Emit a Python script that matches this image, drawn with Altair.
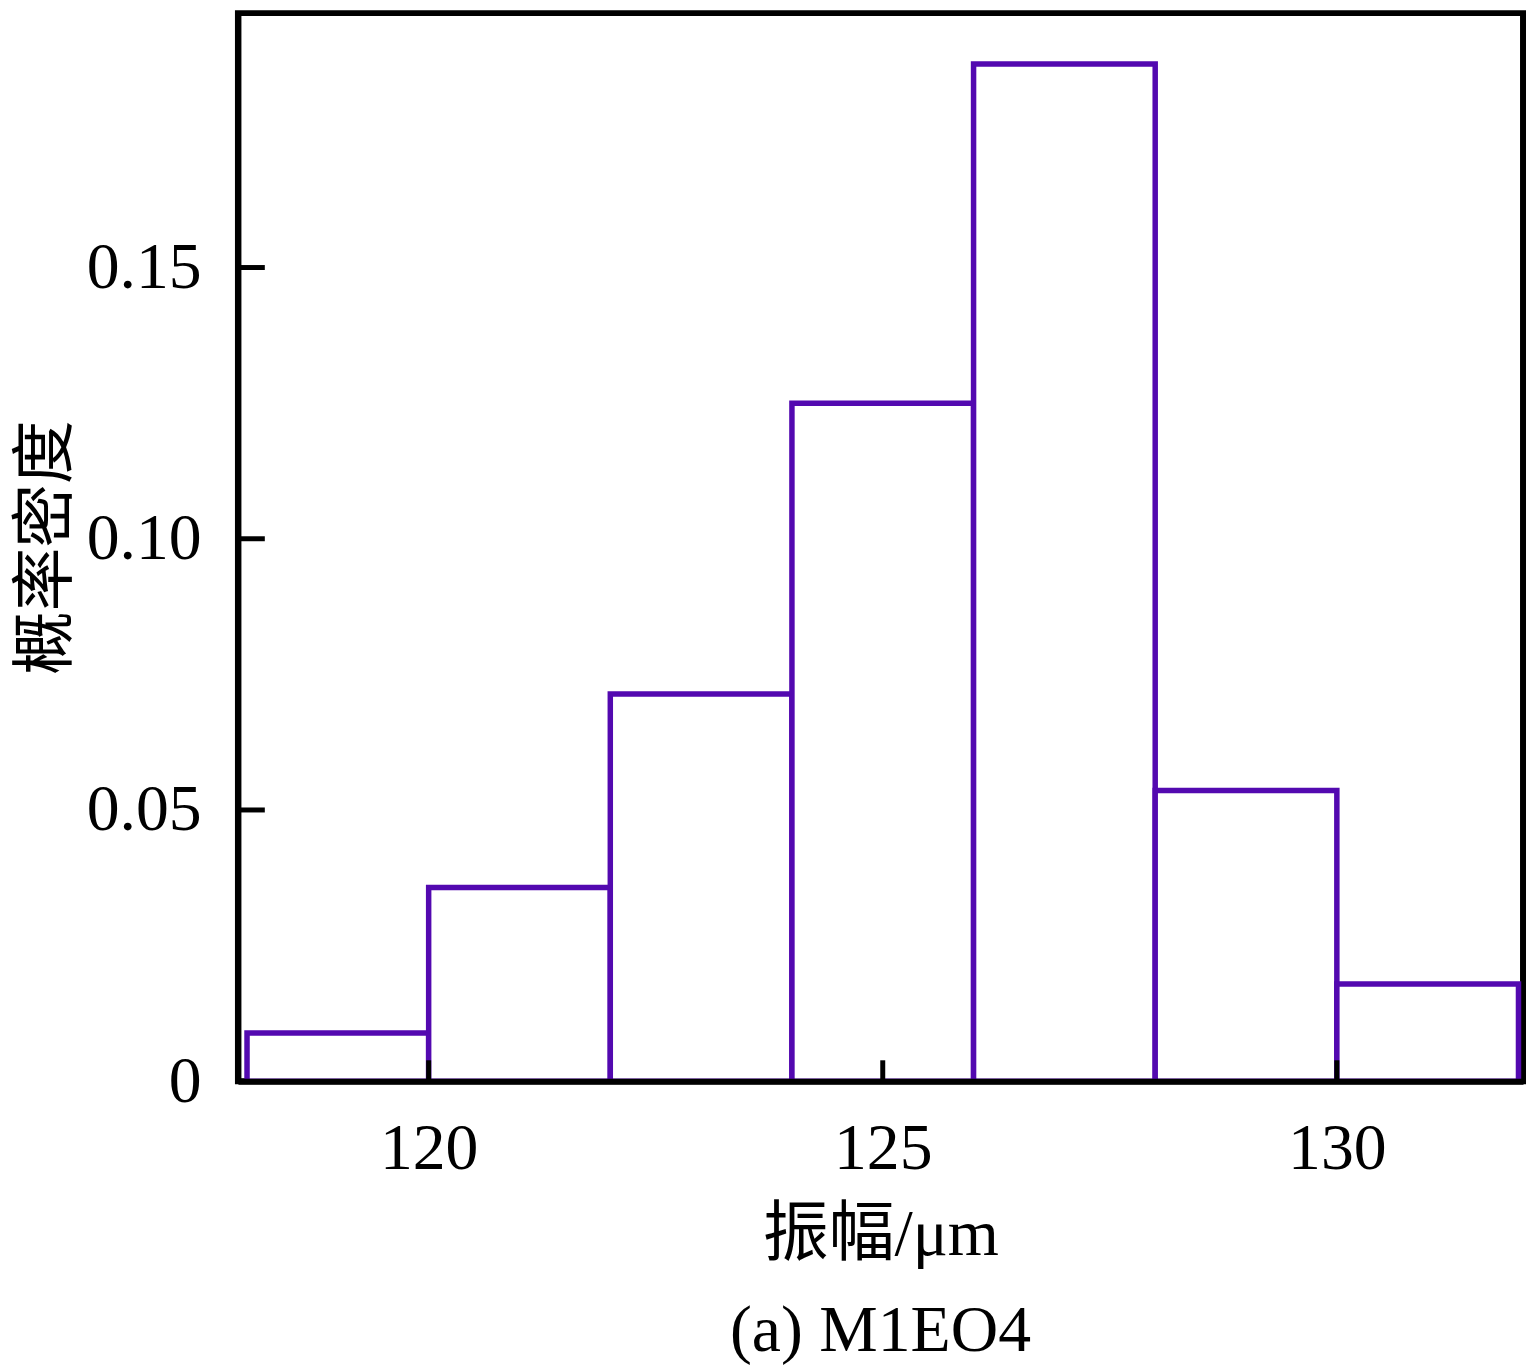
import altair as alt
import pandas as pd

bin_start = [118, 120, 122, 124, 126, 128, 130]
bin_end = [120, 122, 124, 126, 128, 130, 132]
density = [0.0089, 0.0357, 0.0714, 0.125, 0.1875, 0.0536, 0.0179]
x_ticks = [120, 125, 130]
y_ticks = [0, 0.05, 0.10, 0.15]

W, H = 1291, 1073
FONT = "Liberation Serif, Times New Roman, Noto Sans CJK SC"
PURPLE = "#5309b0"

bars = pd.DataFrame({"start": bin_start, "end": bin_end, "density": density})
xt = pd.DataFrame({"v": x_ticks})
yt = pd.DataFrame({"v": y_ticks[1:]})

xscale = alt.Scale(domain=[117.9, 132.05], nice=False, zero=False)
yscale = alt.Scale(domain=[0, 0.1969], nice=False)

base = alt.Chart(bars).mark_rect(
    fill="white", stroke=PURPLE, strokeWidth=5.5, strokeJoin="miter"
).encode(
    x=alt.X("start:Q", scale=xscale,
            axis=alt.Axis(values=x_ticks, title="振幅/μm", ticks=False, format="d",
                          labelPadding=36, labelFontSize=66, titleFontSize=66,
                          labelFont=FONT, titleFont=FONT, titleFontWeight="normal",
                          labelColor="black", titleColor="black",
                          domainColor="black", domainWidth=6, grid=False,
                          titleY=122, titleBaseline="top", zindex=1)),
    x2="end:Q",
    y=alt.Y("density:Q", scale=yscale,
            axis=alt.Axis(values=y_ticks, title="概率密度", ticks=False,
                          labelExpr="datum.value == 0 ? '0' : format(datum.value, '.2f')",
                          labelPadding=37, labelFontSize=66, titleFontSize=64,
                          labelFont=FONT, titleFont=FONT, titleFontWeight="normal",
                          labelColor="black", titleColor="black",
                          domainColor="black", domainWidth=6, grid=False,
                          titleX=-192, titleBaseline="middle", titleAngle=-90,
                          zindex=1)),
    y2=alt.datum(0),
)

xtick_layer = alt.Chart(xt).mark_rule(color="black", strokeWidth=5).encode(
    x=alt.X("v:Q", scale=xscale),
    y=alt.value(H), y2=alt.value(H - 21),
)
ytick_layer = alt.Chart(yt).mark_rule(color="black", strokeWidth=5).encode(
    y=alt.Y("v:Q", scale=yscale),
    x=alt.value(0), x2=alt.value(27),
)

chart = alt.layer(base, xtick_layer, ytick_layer).properties(
    width=W, height=H,
    autosize=alt.AutoSizeParams(type="none"),
    padding={"left": 231, "top": 2, "right": 4, "bottom": 289},
    title=alt.TitleParams("(a) M1EO4", orient="bottom", anchor="middle",
                          font=FONT, fontSize=66, fontWeight="normal",
                          color="black", offset=32, frame="group"),
).configure_view(stroke="black", strokeWidth=6)

chart.save("out.html", embed_options={"renderer": "svg", "actions": False})
